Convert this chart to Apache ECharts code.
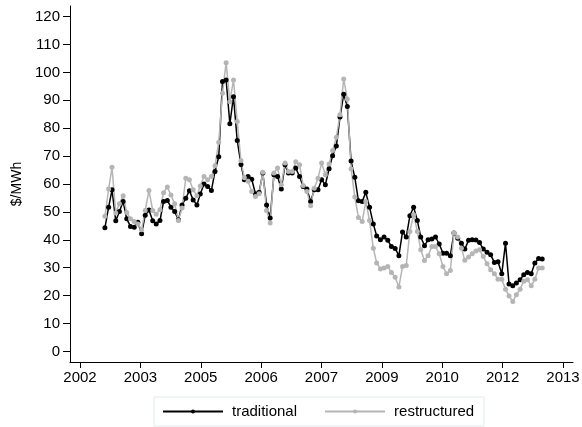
<!DOCTYPE html>
<html>
<head>
<meta charset="utf-8">
<script src="https://cdn.jsdelivr.net/npm/echarts@6/dist/echarts.min.js"></script>
<style>
html,body{margin:0;padding:0;background:#fff;}
#chart{width:582px;height:427px;}
</style>
</head>
<body>
<div id="chart"></div>
<script>
// Monthly observations, Jan 2003 .. Dec 2012
const startYear = 2003;
const monthCount = 120;
const months = [];
for (let i = 0; i < monthCount; i++) {
  const y = startYear + Math.floor(i / 12);
  const m = (i % 12) + 1;
  months.push(y + '-' + (m < 10 ? '0' + m : m));
}

const traditional = [
  44.3, 51.7, 57.9, 46.8, 50.1, 53.7, 47.5, 44.8, 44.5, 46.3, 42.2, 48.8,
  50.7, 46.8, 45.7, 46.9, 53.7, 54.1, 51.7, 50.1, 47.2, 52.5, 54.9, 57.6,
  54.3, 52.5, 56.4, 60.0, 59.1, 57.7, 64.5, 69.8, 96.7, 97.3, 81.6, 91.3,
  75.6, 67.0, 61.5, 62.7, 61.7, 56.5, 57.0, 63.9, 52.5, 47.8, 63.3, 62.7,
  58.2, 66.9, 63.9, 63.9, 65.7, 62.7, 59.1, 58.2, 53.7, 57.9, 57.9, 61.5,
  59.7, 65.5, 70.1, 73.6, 84.0, 92.2, 87.8, 68.2, 62.4, 54.0, 53.7, 57.0,
  51.7, 45.7, 41.4, 40.0, 41.0, 39.8, 37.6, 36.9, 34.3, 42.8, 41.0, 48.6,
  51.7, 46.9, 41.0, 37.9, 40.0, 40.3, 41.0, 38.5, 35.2, 35.2, 34.3, 42.4,
  40.6, 38.8, 36.7, 39.8, 40.0, 39.9, 39.0, 36.7, 35.5, 34.6, 31.9, 32.1,
  27.8, 38.8, 24.2, 23.5, 24.5, 25.7, 27.5, 28.3, 27.8, 31.7, 33.3, 33.1
];

const restructured = [
  48.4, 58.2, 66.0, 49.6, 52.9, 55.8, 49.8, 47.5, 46.6, 45.7, 43.6, 50.5,
  57.7, 50.5, 49.2, 50.8, 56.9, 58.9, 56.1, 52.9, 46.9, 51.4, 62.1, 61.5,
  57.9, 55.8, 59.3, 62.7, 61.5, 62.7, 66.5, 75.0, 92.5, 103.5, 89.5, 97.3,
  82.4, 68.4, 62.2, 61.0, 57.3, 55.5, 56.5, 64.2, 50.5, 46.0, 63.9, 65.7,
  59.7, 67.5, 64.5, 64.5, 68.0, 66.9, 59.5, 57.3, 52.2, 58.5, 62.1, 67.5,
  63.3, 67.2, 72.0, 76.8, 84.8, 97.6, 90.5, 65.5, 55.3, 48.0, 46.6, 53.7,
  46.9, 37.0, 31.7, 29.5, 29.9, 30.4, 28.3, 26.6, 23.1, 30.4, 30.8, 43.0,
  49.0, 43.0, 36.4, 32.6, 34.3, 37.6, 37.6, 35.0, 30.4, 27.8, 29.0, 42.4,
  41.0, 37.0, 32.7, 33.8, 35.0, 36.0, 36.4, 34.0, 31.4, 29.3, 27.8, 25.9,
  25.9, 22.3, 19.9, 17.9, 20.3, 22.3, 25.1, 25.7, 23.5, 25.9, 29.9, 29.9
];

// x-axis ticks: days since 1960-01-01 (Stata %td), labelled by year
const xTicks = [15500, 16000, 16500, 17000, 17500, 18000, 18500, 19000, 19500];
const yTicks = [0, 10, 20, 30, 40, 50, 60, 70, 80, 90, 100, 110, 120];

const DAY = 86400000;
const EPOCH = Date.UTC(1960, 0, 1);
function monthToDay(s) {
  const p = s.split('-');
  return (Date.UTC(+p[0], +p[1] - 1, 1) - EPOCH) / DAY;
}
function dayToYear(v) {
  return String(new Date(EPOCH + v * DAY).getUTCFullYear());
}

const tradData = months.map((m, i) => [monthToDay(m), traditional[i]]);
const restData = months.map((m, i) => [monthToDay(m), restructured[i]]);

const FONT = 'Liberation Sans, Arial, Helvetica, sans-serif';
const chart = echarts.init(document.getElementById('chart'), null, {renderer: 'canvas'});
chart.setOption({
  animation: false,
  backgroundColor: '#ffffff',
  textStyle: {fontFamily: FONT},
  grid: {left: 70, right: 9, top: 6, bottom: 65, containLabel: false, outerBoundsMode: 'none'},
  xAxis: {
    type: 'value',
    min: 15417,
    max: 19583,
    axisLine: {show: true, onZero: false, lineStyle: {color: '#000', width: 1}},
    axisTick: {show: true, length: 6, customValues: xTicks, lineStyle: {color: '#000'}},
    axisLabel: {customValues: xTicks, formatter: dayToYear, color: '#000', fontSize: 15, margin: 8, fontFamily: FONT},
    splitLine: {show: false}
  },
  yAxis: {
    type: 'value',
    min: -3.8,
    max: 123.8,
    name: '$/MWh',
    nameLocation: 'middle',
    nameGap: 46,
    nameTextStyle: {color: '#000', fontSize: 14, fontFamily: FONT},
    axisLine: {show: true, onZero: false, lineStyle: {color: '#000', width: 1}},
    axisTick: {show: true, length: 7, customValues: yTicks, lineStyle: {color: '#000'}},
    axisLabel: {customValues: yTicks, color: '#000', fontSize: 15, margin: 10, fontFamily: FONT},
    splitLine: {show: false}
  },
  legend: {
    left: 154,
    top: 397,
    padding: [7, 10, 7, 8],
    borderColor: '#e4eaec',
    borderWidth: 1,
    itemWidth: 60,
    itemHeight: 5,
    itemGap: 27,
    textStyle: {color: '#000', fontSize: 15, fontFamily: FONT, padding: [0, 0, 0, 4]},
    data: ['traditional', 'restructured']
  },
  series: [
    {
      name: 'traditional',
      type: 'line',
      data: tradData,
      symbol: 'circle',
      symbolSize: 5,
      showSymbol: true,
      lineStyle: {color: '#000', width: 1.5},
      itemStyle: {color: '#000'}
    },
    {
      name: 'restructured',
      type: 'line',
      data: restData,
      symbol: 'circle',
      symbolSize: 5,
      showSymbol: true,
      lineStyle: {color: '#b5b5b5', width: 1.5},
      itemStyle: {color: '#b5b5b5'}
    }
  ]
});
</script>
</body>
</html>
